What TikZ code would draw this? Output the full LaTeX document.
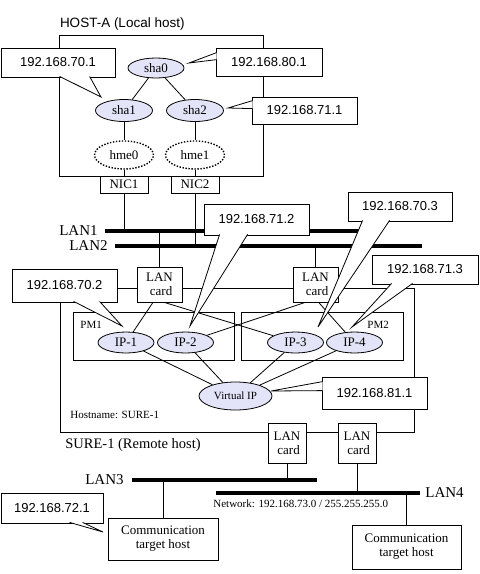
\documentclass[tikz,border=0pt]{standalone}
\usepackage{fontspec}
\setmainfont{Liberation Serif}
\setsansfont{Liberation Sans}
\usepackage{tikz}
\usetikzlibrary{shapes.geometric,calc,positioning}
\definecolor{ipfill}{RGB}{228,228,248}

\begin{document}
\begin{tikzpicture}[
    x=1pt, y=-1pt, line width=0.8pt,
    box/.style={rectangle, draw, fill=white, inner sep=0pt},
    card/.style={box, align=center, minimum width=45pt, minimum height=35pt,
      font=\fontsize{13}{14}\selectfont},
    nic/.style={box, minimum width=48pt, minimum height=17pt,
      font=\fontsize{13}{14}\selectfont},
    ifc/.style={ellipse, draw, fill=ipfill, inner sep=0pt,
      minimum width=57pt, minimum height=22pt, font=\fontsize{13}{14}\selectfont},
    phys/.style={ellipse, draw, line width=1.4pt, dash pattern=on 1.4pt off 1.6pt,
      inner sep=0pt, minimum width=59pt, minimum height=28pt,
      font=\fontsize{13}{14}\selectfont},
    callout/.style={box, minimum width=105pt, minimum height=30pt,
      font=\sffamily\fontsize{13}{15}\selectfont},
    pointer/.style={draw, fill=white, line join=miter},
    lan/.style={line width=4pt},
    lanlabel/.style={inner sep=0pt, font=\fontsize{15}{17}\selectfont},
    note/.style={inner sep=0pt, font=\fontsize{11}{12}\selectfont}
  ]
  \useasboundingbox (0,0) rectangle (480,574);

  \node[draw, rectangle, inner sep=0pt, minimum width=204pt, minimum height=141pt]
    (hosta) at (161,105.5) {};
  \node[anchor=south west, inner sep=0pt, font=\sffamily\fontsize{13.5}{15}\selectfont]
    (hostlbl) at ($(hosta.north west)+(1,-4)$) {HOST-A (Local host)};

  \node[ifc, minimum width=56pt, minimum height=20pt] (sha0) at (156,68) {sha0};
  \node[ifc] (sha1) at (124,110.5) {sha1};
  \node[ifc] (sha2) at (195,110.5) {sha2};
  \node[phys] (hme0) at (124,155) {hme0};
  \node[phys] (hme1) at (195,155) {hme1};
  \node[nic] (nic1) at (124,184.5) {NIC1};
  \node[nic] (nic2) at (195,184.5) {NIC2};

  \draw (sha0) -- (sha1);
  \draw (sha0) -- (sha2);
  \draw (sha1) -- (hme0);
  \draw (sha2) -- (hme1);
  \draw (hme0) -- (nic1);
  \draw (hme1) -- (nic2);

  \coordinate (lan1w) at (105,231);
  \coordinate (lan1e) at (366,231);
  \coordinate (lan2w) at (115,246);
  \coordinate (lan2e) at (422,246);
  \draw[lan] (lan1w) -- (lan1e);
  \draw[lan] (lan2w) -- (lan2e);
  \node[lanlabel, left=7pt of lan1w] (lan1lbl) {LAN1};
  \node[lanlabel, left=7pt of lan2w] (lan2lbl) {LAN2};

  \node[draw, rectangle, inner sep=0pt, minimum width=354pt, minimum height=144pt]
    (sure) at (237,360) {};
  \node[anchor=north west, inner sep=0pt, font=\fontsize{14.5}{16}\selectfont]
    (surelbl) at (65,438) {SURE-1 (Remote host)};
  \node[note, anchor=west] (hostname) at (70,415) {Hostname: SURE-1};

  \node[box, minimum width=161pt, minimum height=48pt] (pm1) at (153.5,336) {};
  \node[box, minimum width=162pt, minimum height=48pt] (pm2) at (322,336) {};
  \node[note, anchor=west] (pm1lbl) at (80,325) {PM1};
  \node[note, anchor=west] (pm2lbl) at (367,325) {PM2};

  \node[ifc, minimum width=56pt, minimum height=21pt] (ip1) at (126,342.5) {IP-1};
  \node[ifc, minimum width=56pt, minimum height=21pt] (ip2) at (185.5,342.5) {IP-2};
  \node[ifc, minimum width=56pt, minimum height=21pt] (ip3) at (295.5,342.5) {IP-3};
  \node[ifc, minimum width=56pt, minimum height=21pt] (ip4) at (354.5,342.5) {IP-4};
  \node[ifc, minimum width=73pt, minimum height=28pt,
    font=\fontsize{11}{12}\selectfont] (vip) at (235.5,396) {Virtual IP};

  \node[card] (lc1) at (159.5,284.5) {LAN\\\ card};
  \node[card] (lc2) at (315.5,284.5) {LAN\\\ card};
  \node[card, minimum width=38pt, minimum height=40pt] (lc3) at (287,443) {LAN\\\ card};
  \node[card, minimum width=38pt, minimum height=40pt] (lc4) at (357,443) {LAN\\\ card};

  \draw (nic1) -- (nic1 |- lan1w);
  \draw (nic2) -- (nic2 |- lan2w);
  \draw (lc1) -- (lc1 |- lan1w);
  \draw (lc2) -- (lc2 |- lan2w);

  \draw (lc1.-110) -- (ip1);
  \draw (lc1.-75) -- (ip3);
  \draw (lc2.-120) -- (ip2);
  \draw (lc2.-80) -- (ip4);
  \draw (ip1) -- (vip);
  \draw (ip2) -- (vip);
  \draw (ip3) -- (vip);
  \draw (ip4) -- (vip);

  \coordinate (lan3w) at (132,480);
  \coordinate (lan3e) at (317,480);
  \coordinate (lan4w) at (216,493);
  \coordinate (lan4e) at (420,493);
  \draw[lan] (lan3w) -- (lan3e);
  \draw[lan] (lan4w) -- (lan4e);
  \node[lanlabel, left=8pt of lan3w] (lan3lbl) {LAN3};
  \node[lanlabel, right=5pt of lan4e] (lan4lbl) {LAN4};
  \node[note, anchor=west] (netlbl) at (213,504) {Network: 192.168.73.0 / 255.255.255.0};

  \node[card, minimum width=110pt, minimum height=42pt] (comm1) at (163,539)
    {Communication\\target host};
  \node[card, minimum width=109pt, minimum height=44pt] (comm2) at (406.5,547)
    {Communication\\target host};

  \draw (lc3) -- (lc3 |- lan3w);
  \draw (lc4) -- (lc4 |- lan4w);
  \draw (comm1) -- (comm1 |- lan3w);
  \draw (comm2) -- (comm2 |- lan4w);

  \node[callout, minimum width=114pt, minimum height=29pt] (c701) at (58,62.5) {192.168.70.1};
  \node[callout, minimum width=106pt, minimum height=28pt] (c801) at (269,62) {192.168.80.1};
  \node[callout, minimum height=27pt] (c711) at (304.5,110.5) {192.168.71.1};
  \node[callout, minimum height=33pt] (c702) at (64.5,285.5) {192.168.70.2};
  \node[callout, minimum height=31pt] (c712) at (256.5,219.5) {192.168.71.2};
  \node[callout, minimum width=104pt, minimum height=29pt] (c703) at (400,206.5) {192.168.70.3};
  \node[callout, minimum width=106pt, minimum height=29pt] (c713) at (425,269.5) {192.168.71.3};
  \node[callout, minimum height=32pt] (c811) at (374.5,393) {192.168.81.1};
  \node[callout, minimum width=102pt] (c721) at (52,508) {192.168.72.1};

  \coordinate (t701) at (101,97);
  \coordinate (t801) at (189,63);
  \coordinate (t711) at (228,108);
  \coordinate (t702) at (122,326);
  \coordinate (t712) at (190,326);
  \coordinate (t703) at (318,327);
  \coordinate (t713) at (352,327);
  \coordinate (t811) at (271,391);
  \coordinate (t721) at (103,532);

  \draw[pointer] ($(c701.south west)+(59,-1)$) -- (t701) -- ($(c701.south west)+(89,-1)$);
  \draw[pointer] ($(c801.north west)+(1,5)$) -- (t801) -- ($(c801.north west)+(1,12)$);
  \draw[pointer] ($(c711.north west)+(1,4)$) -- (t711) -- ($(c711.north west)+(1,12)$);
  \draw[pointer] ($(c702.south west)+(62,-1)$) -- (t702) -- ($(c702.south west)+(88,-1)$);
  \draw[pointer] ($(c712.south west)+(16,-1)$) -- (t712) -- ($(c712.south west)+(44,-1)$);
  \draw[pointer] ($(c703.south west)+(15,-1)$) -- (t703) -- ($(c703.south west)+(42,-1)$);
  \draw[pointer] ($(c713.south west)+(20,-1)$) -- (t713) -- ($(c713.south west)+(41,-1)$);
  \draw[pointer] ($(c811.north west)+(1,5)$) -- (t811) -- ($(c811.north west)+(1,14)$);
  \draw[pointer] ($(c721.south west)+(69,-1)$) -- (t721) -- ($(c721.south west)+(82,-1)$);
\end{tikzpicture}
\end{document}
